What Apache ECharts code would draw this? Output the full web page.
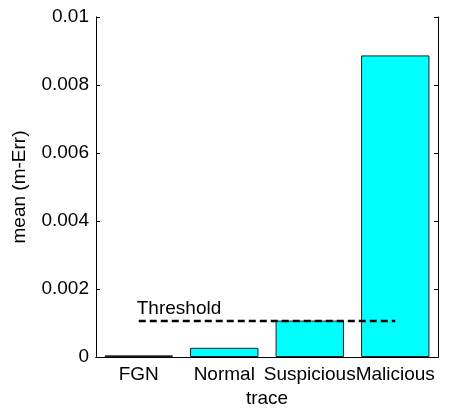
<!DOCTYPE html>
<html>
<head>
<meta charset="utf-8">
<script src="https://cdn.jsdelivr.net/npm/echarts@6/dist/echarts.min.js"></script>
<style>
  html, body { margin: 0; padding: 0; background: #fff; }
  #chart { width: 449px; height: 413px; }
</style>
</head>
<body>
<div id="chart"></div>
<script>
// data
const categories = ['FGN', 'Normal', 'Suspicious', 'Malicious'];
const meanErr = [0.00005, 0.00027, 0.00107, 0.00887];
const threshold = 0.00106;
const yTicks = { min: 0, max: 0.01, step: 0.002 };

const font = "'Liberation Sans', Arial, sans-serif";
const fs = 19;
const thresholdLine = categories.map((c, i) => {
  if (i === 0) {
    return {
      value: threshold,
      label: {
        show: true,
        formatter: 'Threshold',
        position: 'top',
        align: 'left',
        offset: [-2, 2],
        color: '#000',
        fontFamily: font,
        fontSize: fs
      }
    };
  }
  return threshold;
});

const chart = echarts.init(document.getElementById('chart'));
chart.setOption({
  animation: false,
  textStyle: { fontFamily: font },
  grid: { left: 96, right: 11, top: 17, bottom: 52 },
  xAxis: [
    {
      type: 'category',
      data: categories,
      name: 'trace',
      nameLocation: 'middle',
      nameGap: 32,
      nameTextStyle: { color: '#000', fontSize: fs, fontFamily: font },
      axisLine: { lineStyle: { color: '#000', width: 1 } },
      axisTick: { inside: true, length: 4, alignWithLabel: true, lineStyle: { color: '#000' } },
      axisLabel: { color: '#000', fontSize: fs, fontFamily: font, margin: 8, interval: 0 }
    },
    {
      type: 'category',
      data: categories,
      position: 'top',
      axisLine: { lineStyle: { color: '#000', width: 1 } },
      axisTick: { inside: true, length: 4, alignWithLabel: true, lineStyle: { color: '#000' } },
      axisLabel: { show: false }
    }
  ],
  yAxis: [
    {
      type: 'value',
      min: yTicks.min,
      max: yTicks.max,
      interval: yTicks.step,
      name: 'mean (m-Err)',
      nameLocation: 'middle',
      nameGap: 67,
      nameTextStyle: { color: '#000', fontSize: fs, fontFamily: font },
      axisLine: { show: true, lineStyle: { color: '#000', width: 1 } },
      axisTick: { show: true, inside: true, length: 4, lineStyle: { color: '#000' } },
      axisLabel: { color: '#000', fontSize: fs, fontFamily: font, margin: 7 },
      splitLine: { show: false }
    },
    {
      type: 'value',
      min: yTicks.min,
      max: yTicks.max,
      interval: yTicks.step,
      position: 'right',
      axisLine: { show: true, lineStyle: { color: '#000', width: 1 } },
      axisTick: { show: true, inside: true, length: 4, lineStyle: { color: '#000' } },
      axisLabel: { show: false },
      splitLine: { show: false }
    }
  ],
  series: [
    {
      type: 'bar',
      data: meanErr,
      barWidth: '80%',
      itemStyle: { color: '#00ffff', borderColor: '#222', borderWidth: 1 }
    },
    {
      type: 'line',
      data: thresholdLine,
      symbol: 'circle',
      symbolSize: 0,
      showAllSymbol: true,
      z: 5,
      lineStyle: { color: '#000', width: 2.5, type: [7, 4] }
    }
  ]
});
</script>
</body>
</html>
